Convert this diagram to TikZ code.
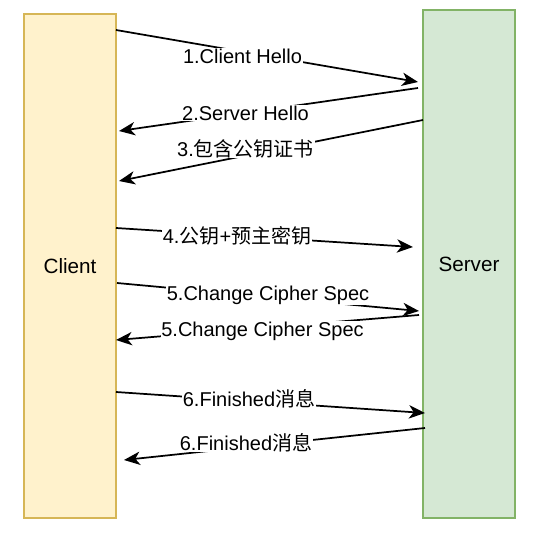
\documentclass[tikz,border=0pt]{standalone}
\usepackage{fontspec}
\setmainfont{Liberation Sans}
\newfontfamily\cjk{Noto Sans CJK SC}
\usetikzlibrary{arrows.meta}
\definecolor{clientfill}{HTML}{FFF2CC}
\definecolor{clientline}{HTML}{D6B656}
\definecolor{serverfill}{HTML}{D5E8D4}
\definecolor{serverline}{HTML}{82B366}
\tikzset{
  party/.style={rectangle, line width=1.1pt, minimum width=69pt, inner sep=0pt,
    font=\fontsize{15.5pt}{18pt}\selectfont},
  msg/.style={line width=1.3pt, -{Stealth[length=12pt, width=10pt, inset=3.5pt]}},
  msglabel/.style={fill=white, inner sep=0.5pt, anchor=base,
    font=\fontsize{15pt}{18pt}\selectfont}
}
\begin{document}
\begin{tikzpicture}[x=0.75pt, y=-0.75pt]
\useasboundingbox (0,0) rectangle (535,546);
\node[party, fill=clientfill, draw=clientline, minimum height=378pt] (client) at (70,266) {Client};
\node[party, fill=serverfill, draw=serverline, minimum height=381pt] (server) at (469,264) {Server};
% endpoints
\coordinate (a1s) at (116,30);  \coordinate (a1e) at (418,82);
\coordinate (a2s) at (418,88);  \coordinate (a2e) at (119,131);
\coordinate (a3s) at (423,120); \coordinate (a3e) at (119,181);
\coordinate (a4s) at (116,228); \coordinate (a4e) at (413,247);
\coordinate (a5s) at (117,283); \coordinate (a5e) at (419,311);
\coordinate (a6s) at (419,315); \coordinate (a6e) at (116,340);
\coordinate (a7s) at (116,392); \coordinate (a7e) at (425,413);
\coordinate (a8s) at (425,428); \coordinate (a8e) at (124,460);
\draw[msg] (a1s) -- (a1e);
\draw[msg] (a2s) -- (a2e);
\draw[msg] (a3s) -- (a3e);
\draw[msg] (a4s) -- (a4e);
\draw[msg] (a5s) -- (a5e);
\draw[msg] (a6s) -- (a6e);
\draw[msg] (a7s) -- (a7e);
\draw[msg] (a8s) -- (a8e);
\node[msglabel] (l1) at (242.5,63) {1.Client Hello};
\node[msglabel] (l2) at (245.5,120.5) {2.Server Hello};
\node[msglabel] (l3) at (245.5,156) {3.{\cjk 包含公钥证书}};
\node[msglabel] (l4) at (237,243) {4.{\cjk 公钥}+{\cjk 预主密钥}};
\node[msglabel] (l5) at (268,300.5) {5.Change Cipher Spec};
\node[msglabel] (l6) at (262.5,336.5) {5.Change Cipher Spec};
\node[msglabel] (l7) at (249,406.5) {6.Finished{\cjk 消息}};
\node[msglabel] (l8) at (246,450) {6.Finished{\cjk 消息}};
\end{tikzpicture}
\end{document}
